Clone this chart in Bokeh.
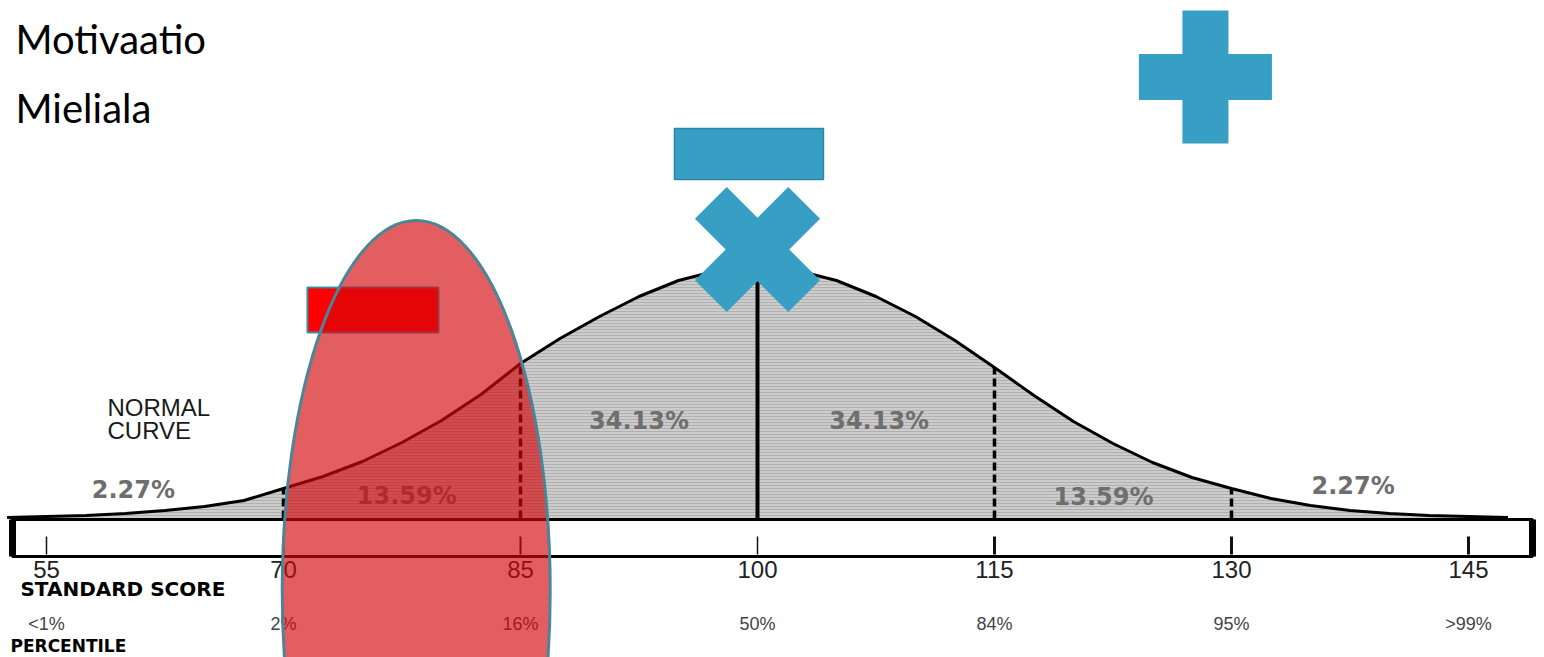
import math
from bokeh.plotting import figure
from bokeh.models import Range1d
from bokeh.core.properties import value
from bokeh.embed import file_html
from bokeh.resources import INLINE

# ---------------- data ----------------
SCORES = [55, 70, 85, 100, 115, 130, 145]
SCORE_LABELS = ["55", "70", "85", "100", "115", "130", "145"]
PERCENTILE_LABELS = ["<1%", "2%", "16%", "50%", "84%", "95%", ">99%"]

# normal curve (height above baseline, px)
CURVE_X = [52.5, 55, 57.5, 60, 62.5, 65, 67.5, 70, 72.5, 75, 77.5, 80, 82.5, 85,
           87.5, 90, 92.5, 95, 97.5, 100, 102.5, 105, 107.5, 110, 112.5, 115,
           117.5, 120, 122.5, 125, 127.5, 130, 132.5, 135, 137.5, 140, 142.5,
           145, 147.5]
CURVE_H = [1, 2, 3, 5, 8, 12, 18, 30, 42, 57, 76, 98, 124, 155,
           180, 202, 222, 238, 248, 252, 248, 238, 222, 202, 178, 151,
           123, 97, 75, 56, 41, 30, 20, 13, 8, 5, 3,
           2, 1]

DIVIDERS = [70, 85, 115, 130]
MEAN = 100

REGION_LABELS = ["2.27%", "13.59%", "34.13%", "34.13%", "13.59%", "2.27%"]
REGION_X = [60.5, 77.8, 92.5, 107.7, 121.9, 137.7]
REGION_Y = [28.5, 23, 98, 98, 22, 32.5]

HEADINGS = ["Motivaatio", "Mieliala"]
HEADING_Y = [480, 411]

# decoration anchors (score units, height units)
ELLIPSE = dict(x=78.4, y=-72, w=268, h=740)
RED_BAR = dict(x=75.66, y=208.5, w=131, h=45)
MINUS = dict(x=99.46, y=364.5, w=149, h=51)
CROSS = dict(x=100.0, y=269, w=132, h=45)
PLUS = dict(x=128.35, y=441.5, w=133, h=46)

BOX = dict(left=52.85, right=149.05, top=-1, bottom=-38)

# ---------------- figure ----------------
p = figure(width=1544, height=657, x_range=Range1d(52.089, 149.81),
           y_range=Range1d(-139, 518), toolbar_location=None,
           output_backend="svg", min_border=0)
p.axis.visible = False
p.grid.visible = False
p.outline_line_color = None
p.background_fill_color = "white"

# gray area under curve
p.varea(x=CURVE_X, y1=[0] * len(CURVE_X), y2=CURVE_H, fill_color="#cccccc",
        hatch_pattern="horizontal_line", hatch_color="#b0b0b0",
        hatch_scale=3, hatch_weight=1)

hmap = dict(zip(CURVE_X, CURVE_H))

# dividers
p.segment(x0=DIVIDERS, y0=[0] * 4, x1=DIVIDERS, y1=[hmap[d] for d in DIVIDERS],
          line_color="black", line_width=3.5, line_dash="8 4")
p.segment(x0=[MEAN], y0=[0], x1=[MEAN], y1=[hmap[MEAN]], line_color="black",
          line_width=4)

# curve
p.line(CURVE_X, CURVE_H, line_color="black", line_width=3)

# region labels
p.text(x=REGION_X, y=REGION_Y, text=REGION_LABELS, text_align="center",
       text_baseline="middle", text_font=value("DejaVu Sans"),
       text_font_style="bold", text_font_size="24px", text_color="#6e6e6e")

# NORMAL CURVE
p.text(x=[58.86, 58.86], y=[111, 88], text=["NORMAL", "CURVE"],
       text_align="left", text_baseline="middle",
       text_font=value("Liberation Sans"), text_font_size="24px",
       text_color="#1a1a1a")

# axis box
p.quad(left=[BOX["left"]], right=[BOX["right"]], top=[BOX["top"]],
       bottom=[BOX["bottom"]], fill_color="white", line_color="black",
       line_width=3)
p.segment(x0=[BOX["left"], BOX["right"]], y0=[BOX["top"]] * 2,
          x1=[BOX["left"], BOX["right"]], y1=[BOX["bottom"]] * 2,
          line_color="black", line_width=7)

# ticks inside box
p.segment(x0=SCORES, y0=[-18] * 7, x1=SCORES, y1=[-36] * 7,
          line_color="#111111", line_width=[1.5, 2, 2, 1.5, 3, 3, 3])

# score labels
p.text(x=SCORES, y=[-51] * 7, text=SCORE_LABELS, text_align="center",
       text_baseline="middle", text_font=value("Liberation Sans"),
       text_font_size="24px", text_color="#222222")
p.text(x=[53.35], y=[-70], text=["STANDARD SCORE"], text_align="left",
       text_baseline="middle", text_font=value("DejaVu Sans"),
       text_font_style="bold", text_font_size="20px", text_color="black")

# percentile labels
p.text(x=SCORES, y=[-105] * 7, text=PERCENTILE_LABELS, text_align="center",
       text_baseline="middle", text_font=value("Liberation Sans"),
       text_font_size="18px", text_color="#444444")
p.text(x=[52.72], y=[-127], text=["PERCENTILE"], text_align="left",
       text_baseline="middle", text_font=value("DejaVu Sans"),
       text_font_style="bold", text_font_size="17px", text_color="black")

# headings
p.text(x=[53.04, 53.04], y=HEADING_Y, text=HEADINGS, text_align="left",
       text_baseline="alphabetic", text_font=value("Lato"),
       text_font_size="40px", text_color="black")

# red bar
p.rect(x=[RED_BAR["x"]], y=[RED_BAR["y"]], width=RED_BAR["w"],
       height=RED_BAR["h"], width_units="screen", height_units="screen",
       fill_color="#ff0000", line_color="#3b8ea5", line_width=2)

# red ellipse
p.ellipse(x=[ELLIPSE["x"]], y=[ELLIPSE["y"]], width=ELLIPSE["w"],
          height=ELLIPSE["h"], width_units="screen", height_units="screen",
          fill_color="#d4080c", fill_alpha=0.65, line_color="#4a8598",
          line_width=3)

BLUE = "#379fc4"
BLUE_EDGE = "#2a86a9"

# minus
p.rect(x=[MINUS["x"]], y=[MINUS["y"]], width=MINUS["w"], height=MINUS["h"],
       width_units="screen", height_units="screen", fill_color=BLUE,
       line_color=BLUE_EDGE, line_width=1.5)

# cross (x)
for ang in (math.pi / 4, -math.pi / 4):
    p.rect(x=[CROSS["x"]], y=[CROSS["y"]], width=CROSS["w"],
           height=CROSS["h"], angle=ang, width_units="screen",
           height_units="screen", fill_color=BLUE, line_color=None)

# plus
p.rect(x=[PLUS["x"]], y=[PLUS["y"]], width=PLUS["w"], height=PLUS["h"],
       width_units="screen", height_units="screen", fill_color=BLUE,
       line_color=None)
p.rect(x=[PLUS["x"]], y=[PLUS["y"]], width=PLUS["h"], height=PLUS["w"],
       width_units="screen", height_units="screen", fill_color=BLUE,
       line_color=None)

open("out.html", "w").write(file_html(p, INLINE))
